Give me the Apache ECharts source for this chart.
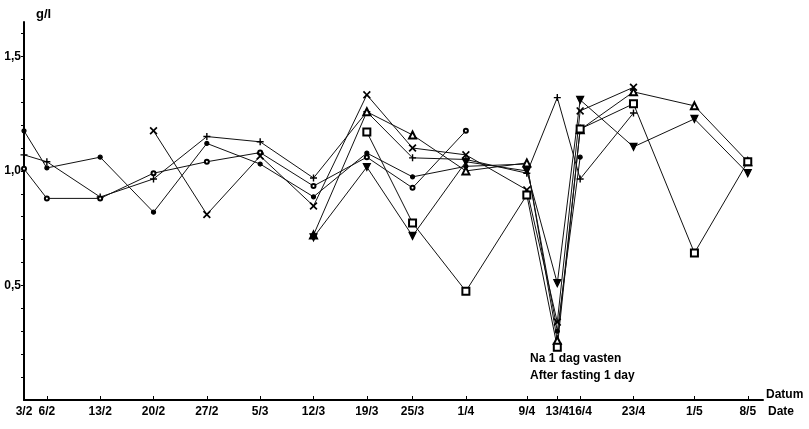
<!DOCTYPE html>
<html>
<head>
<meta charset="utf-8">
<script src="https://cdn.jsdelivr.net/npm/echarts@6/dist/echarts.min.js"></script>
<style>html,body{margin:0;padding:0;background:#fff}#c{width:809px;height:429px}</style>
</head>
<body>
<div id="c"></div>
<script>
// days counted from 3 Feb (leap year)
const days = [0, 3, 10, 17, 24, 31, 38, 45, 51, 58, 66, 70, 73, 80, 88, 95];
const dateLabels = ['3/2','6/2','13/2','20/2','27/2','5/3','12/3','19/3','25/3','1/4','9/4','13/4','16/4','23/4','1/5','8/5'];
const yTickLabels = [0.5, 1.0, 1.5];

const dotSeries    = [1.175, 1.013, 1.06, 0.82, 1.12, 1.03, 0.887, 1.078, 0.974, 1.02, 1.03, 0.30, 1.06, null, null, null];
const plusSeries   = [1.07, 1.04, 0.886, 0.965, 1.15, 1.127, 0.969, 1.258, 1.057, 1.05, 0.99, 1.32, 0.965, 1.253, null, null];
const circleSeries = [1.009, 0.88, 0.88, 0.99, 1.04, 1.08, 0.934, 1.06, 0.926, 1.175, null, null, null, null, null, null];
const crossSeries  = [null, null, null, 1.175, 0.81, 1.065, 0.847, 1.332, 1.10, 1.07, 0.917, 0.34, 1.262, 1.365, null, null];
const triUpSeries  = [null, null, null, null, null, null, 0.72, 1.258, 1.157, 1.0, 1.035, 0.26, 1.18, 1.345, 1.284, 1.04];
const triDnSeries  = [null, null, null, null, null, null, 0.71, 1.017, 0.716, 1.04, 1.0, 0.51, 1.31, 1.105, 1.227, 0.99];
const squareSeries = [null, null, null, null, null, null, null, 1.17, 0.773, 0.475, 0.895, 0.23, 1.183, 1.293, 0.642, 1.04];

function pts(arr){ return days.map((d,i)=> arr[i]==null ? null : [d, arr[i]]).filter(Boolean); }

const FONT = 'Liberation Sans';
const X_PATH = 'path://M0,1.5L1.5,0L5,3.5L8.5,0L10,1.5L6.5,5L10,8.5L8.5,10L5,6.5L1.5,10L0,8.5L3.5,5Z';
const PLUS_PATH = 'path://M4,0H6V4H10V6H6V10H4V6H0V4H4Z';

function mk(name, arr, symbol, size, extra){
  return Object.assign({
    name, type:'line', data: pts(arr), symbol, symbolSize:size,
    lineStyle:{color:'#111', width:1}, itemStyle:{color:'#000', borderColor:'#000', borderWidth:1.2},
    animation:false, z:3
  }, extra||{});
}

const yMinor = [];
for (let i=1;i<=16;i++) yMinor.push(+(i*0.1).toFixed(1));

const chart = echarts.init(document.getElementById('c'), null, {renderer:'canvas'});
chart.setOption({
  backgroundColor:'#fff',
  animation:false,
  grid:{left:24, right:46, top:22, bottom:29},
  xAxis:{
    type:'value', min:0, max:97,
    axisLine:{show:true, lineStyle:{color:'#000', width:2}},
    axisTick:{show:true, inside:true, length:4, customValues: days, lineStyle:{color:'#000', width:1}},
    axisLabel:{customValues: days, formatter:(v)=> dateLabels[days.indexOf(v)] || '', color:'#000', fontFamily:FONT, fontWeight:'bold', fontSize:12, margin:6},
    splitLine:{show:false}
  },
  yAxis:{
    type:'value', min:0, max:1.65,
    axisLine:{show:true, lineStyle:{color:'#000', width:2}},
    axisTick:{show:true, length:3, customValues: yMinor, lineStyle:{color:'#000', width:1}},
    axisLabel:{customValues: yTickLabels, formatter:(v)=> v.toFixed(1).replace('.',','), color:'#000', fontFamily:FONT, fontWeight:'bold', fontSize:12, margin:3},
    splitLine:{show:false}
  },
  series:[
    mk('dot', dotSeries, 'circle', 4),
    mk('plus', plusSeries, PLUS_PATH, 7, {itemStyle:{color:'#000', borderWidth:0}}),
    mk('circle', circleSeries, 'emptyCircle', 4, {itemStyle:{color:'#000', borderColor:'#000', borderWidth:1}}),
    mk('cross', crossSeries, X_PATH, 8, {itemStyle:{color:'#000', borderWidth:0}}),
    mk('triUp', triUpSeries, 'emptyTriangle', 7),
    mk('triDown', triDnSeries, 'triangle', 7, {symbolRotate:180}),
    mk('square', squareSeries, 'emptyRect', 7)
  ],
  graphic:[
    {type:'text', left:36, top:8, style:{text:'g/l', font:'bold 13px "Liberation Sans"', fill:'#000'}},
    {type:'text', left:766, top:389, style:{text:'Datum', font:'bold 12px "Liberation Sans"', fill:'#000'}},
    {type:'text', left:768, top:406, style:{text:'Date', font:'bold 12px "Liberation Sans"', fill:'#000'}},
    {type:'text', left:530, top:353, style:{text:'Na 1 dag vasten', font:'bold 12px "Liberation Sans"', fill:'#000'}},
    {type:'text', left:530, top:370, style:{text:'After fasting 1 day', font:'bold 12px "Liberation Sans"', fill:'#000'}}
  ]
});
</script>
</body>
</html>
